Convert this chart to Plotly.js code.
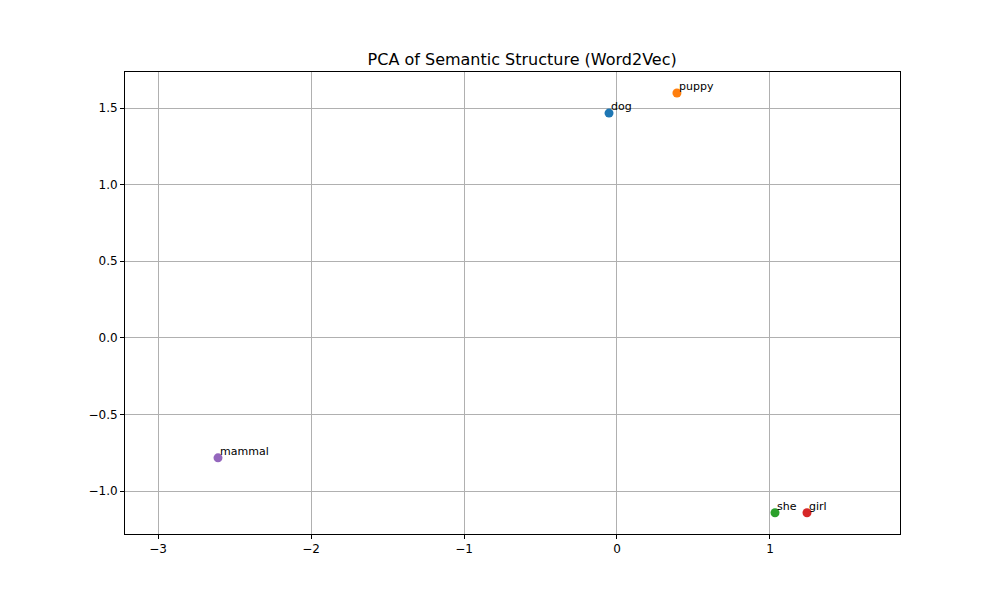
<!DOCTYPE html>
<html><head><script src="https://cdn.plot.ly/plotly-3.0.1.min.js"></script>
<style>body{margin:0}</style></head><body>
<div id="c" style="width:1000px;height:600px"></div>
<script>
const words = ["dog","puppy","she","girl","mammal"];
const xs = [-0.052, 0.392, 1.033, 1.242, -2.608];
const ys = [1.467, 1.598, -1.141, -1.141, -0.783];
const colors = ["#1f77b4","#ff7f0e","#2ca02c","#d62728","#9467bd"];
const traces = words.map((w,i)=>({x:[xs[i]],y:[ys[i]],mode:"markers",type:"scatter",
  marker:{color:colors[i],size:9},hoverinfo:"skip",showlegend:false}));
const ann = words.map((w,i)=>({x:xs[i],y:ys[i],text:w,showarrow:false,xanchor:"left",yanchor:"bottom",
  xshift:0,yshift:-2,font:{size:11,color:"#000"}}));
const ax = {showline:true,mirror:true,linecolor:"#000",linewidth:1,ticks:"outside",ticklen:4,tickcolor:"#000",
  showgrid:true,gridcolor:"#b0b0b0",gridwidth:1,zeroline:false,tickfont:{size:12,color:"#000"}};
Plotly.newPlot("c",traces,{
  width:1000,height:600,margin:{l:125,r:100,t:72,b:66},
  paper_bgcolor:"#fff",plot_bgcolor:"#fff",
  font:{family:"DejaVu Sans",color:"#000"},
  title:{text:"PCA of Semantic Structure (Word2Vec)",font:{size:16},x:0.5125,xref:"paper",yref:"container",y:0.892,yanchor:"bottom"},
  xaxis:Object.assign({range:[-3.216,1.85],tickvals:[-3,-2,-1,0,1],ticktext:["−3","−2","−1","0","1"]},ax),
  yaxis:Object.assign({range:[-1.28,1.735],tickvals:[-1,-0.5,0,0.5,1,1.5],ticktext:["−1.0","−0.5","0.0","0.5","1.0","1.5"]},ax),
  annotations:ann
},{staticPlot:true});
</script></body></html>
